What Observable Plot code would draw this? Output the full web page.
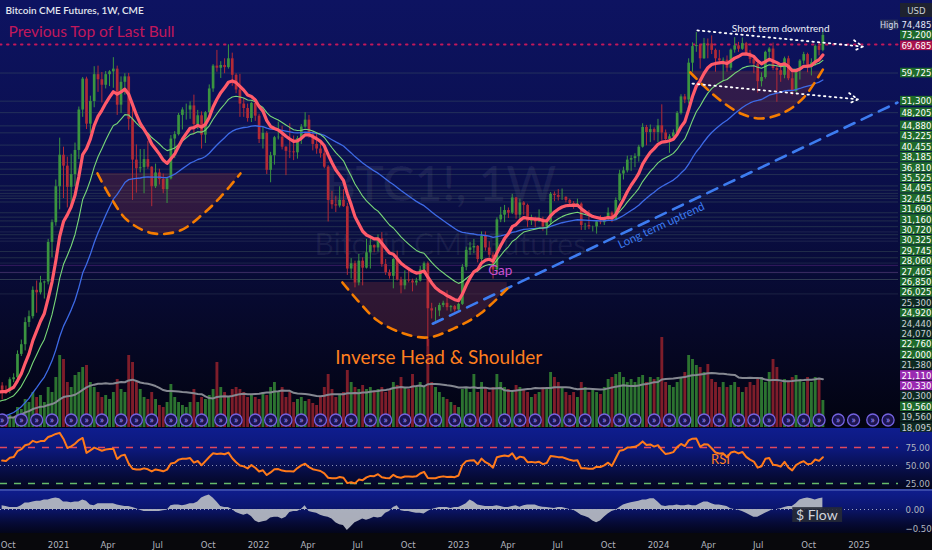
<!DOCTYPE html>
<html>
<head>
<meta charset="utf-8">
<script src="https://cdn.jsdelivr.net/npm/d3@7"></script>
<script src="https://cdn.jsdelivr.net/npm/@observablehq/plot@0.6"></script>
<style>
  html, body { margin:0; padding:0; background:#000; }
  #chart { position:relative; width:932px; height:550px; overflow:hidden; }
  .bg, .layer { position:absolute; left:0; width:932px; }
  .layer svg { display:block; overflow:visible; }
</style>
</head>
<body>
<div id="chart"></div>
<script>
// ---------------- DATA (prices in thousand USD, weekly candles from Sun 2020-09-20) ----------------
const firstWeek = "2020-09-20";
// weekly closes before the visible range (from 2019-10-06), used only to warm up the averages / RSI
const preCloses = [8.3,8.0,9.3,9.2,8.8,8.5,7.3,7.5,7.5,7.1,7.2,7.3,7.4,8.2,8.9,8.4,9.4,9.9,10.3,9.7,
  8.7,8.9,5.2,6.2,6.4,6.8,6.9,7.1,7.5,8.8,9.8,9.6,9.2,9.5,9.7,9.4,9.3,9.1,9.1,9.2,
  9.2,9.7,11.4,11.6,11.9,11.6,11.5,10.1,10.4,11.0];
const closes = [
  10.75,10.68,11.38,11.5,13.05,13.75,15.5,16.0,18.45,18.2,
  19.2,19.3,23.9,26.6,32.3,38.3,36.1,32.2,34.5,39.3,
  48.9,57.8,45.3,51.2,59.2,57.6,55.9,59.2,60.1,61.0,
  50.2,56.8,58.5,46.5,37.3,35.6,35.8,37.4,35.9,32.3,
  34.8,33.6,31.8,33.7,41.8,42.8,47.5,48.9,48.9,50.0,
  45.2,47.4,42.7,48.2,54.8,62.0,61.3,62.2,61.5,64.5,
  59.0,54.5,50.5,49.3,46.7,50.7,47.3,41.7,43.1,35.3,
  38.2,42.1,42.2,40.0,39.1,39.0,38.8,41.9,44.6,46.3,
  42.8,40.6,39.6,38.6,35.9,30.0,29.3,29.1,30.0,29.0,
  20.7,21.3,19.2,21.6,20.8,22.6,23.5,23.2,24.4,21.2,
  20.3,19.9,21.8,19.5,18.9,19.5,19.4,19.2,19.4,20.6,
  21.3,16.7,16.5,16.5,17.0,17.2,16.8,16.9,16.6,17.1,
  20.9,22.9,23.2,23.4,21.8,24.7,23.2,22.3,20.6,27.0,
  27.7,28.4,28.0,30.4,27.7,29.6,29.2,26.8,27.0,26.7,
  27.1,26.0,26.6,31.0,30.8,30.5,30.5,30.0,29.5,29.2,
  29.4,26.2,26.2,26.0,26.0,26.7,26.6,27.1,28.0,27.0,
  30.0,34.6,35.2,37.3,37.6,38.0,40.0,44.5,43.3,44.0,
  43.3,44.9,43.2,41.7,42.3,43.2,48.0,52.5,51.6,63.0,
  68.9,69.3,64.5,70.0,69.9,67.5,64.5,63.8,64.0,61.3,
  67.6,69.2,67.9,70.0,66.5,64.3,62.7,57.0,58.3,66.8,
  68.0,61.2,60.5,59.0,64.5,57.9,54.0,60.5,63.7,66.0,
  62.2,63.1,69.0,67.5,73.2];
const highs = [
  11.2,11.0,11.5,11.75,13.3,14.1,15.9,16.5,18.8,19.4,
  19.9,19.4,24.3,27.0,33.5,42.0,40.0,37.9,38.5,40.9,
  49.7,58.3,58.4,52.7,61.8,62.0,59.9,60.2,60.5,64.9,
  62.0,58.5,59.5,59.6,49.5,40.5,39.5,39.5,41.3,36.0,
  36.5,35.5,34.6,33.8,42.6,43.5,48.0,49.5,50.5,51.1,
  53.0,48.8,48.4,48.5,56.0,62.5,67.5,63.5,64.5,69.6,
  66.5,59.5,59.3,52.0,50.5,51.0,52.0,47.8,44.5,43.5,
  38.9,42.4,45.8,44.8,40.1,45.4,42.5,42.4,45.2,48.2,
  47.5,43.4,42.9,40.7,40.0,36.2,31.5,30.7,32.3,31.8,
  29.5,21.9,21.6,22.4,22.0,24.3,24.6,23.6,24.9,25.2,
  21.8,20.6,21.9,22.8,19.8,20.5,20.5,19.6,19.7,21.0,
  21.5,21.5,17.2,16.8,17.2,17.4,18.4,17.0,17.0,17.2,
  21.2,23.3,23.9,24.3,23.5,25.3,25.3,24.0,22.6,27.3,
  28.9,29.2,28.8,31.0,30.5,30.2,29.8,29.4,27.7,27.4,
  28.5,27.4,26.9,31.3,31.4,31.8,31.9,30.6,30.2,29.8,
  30.2,29.6,26.5,28.4,26.1,26.9,27.6,27.4,28.8,28.2,
  30.4,35.3,35.9,38.1,38.2,38.6,40.4,45.4,45.0,45.1,
  44.4,46.5,50.3,43.9,42.8,43.9,48.5,53.1,53.2,64.5,
  70.3,74.4,69.5,72.0,71.8,73.0,68.0,67.5,64.8,65.5,
  68.0,72.3,70.5,72.2,70.5,67.5,65.0,64.0,59.8,67.2,
  68.5,70.2,62.0,61.9,65.1,65.4,59.8,60.8,64.2,66.8,
  66.5,64.5,69.5,70.0,74.5];
const lows = [
  10.2,10.5,10.55,11.2,11.3,12.9,13.3,15.1,15.8,16.3,
  18.0,17.6,19.0,22.0,26.1,28.5,30.3,28.8,29.2,32.3,
  37.4,47.0,44.0,43.0,49.5,53.8,50.8,54.8,55.5,55.0,
  47.5,48.0,53.0,43.8,30.0,31.2,34.8,31.1,35.5,29.0,
  32.0,32.6,31.1,29.5,33.5,37.6,42.5,43.9,46.3,46.5,
  42.8,44.0,39.6,40.8,47.8,53.8,60.0,58.0,59.5,61.0,
  55.6,53.4,47.0,47.0,45.8,45.7,46.0,40.8,39.6,34.5,
  33.0,36.3,41.6,39.4,34.3,37.6,37.2,37.5,40.6,44.3,
  42.0,39.2,38.5,37.7,35.6,26.7,28.6,28.1,28.8,28.9,
  20.0,19.6,18.7,18.9,18.9,20.7,20.7,22.6,22.7,20.9,
  20.0,19.6,18.6,19.4,18.1,18.5,19.2,18.3,18.9,19.3,
  20.1,13.6,15.8,15.6,16.0,16.8,16.5,16.4,16.4,16.5,
  17.0,20.5,22.3,22.5,21.4,21.5,22.8,22.0,19.6,20.2,
  26.6,26.6,27.2,27.8,27.1,27.0,27.7,25.9,26.2,25.9,
  26.6,25.4,24.8,26.2,29.8,29.9,30.0,29.6,28.9,28.6,
  29.0,25.5,25.5,25.6,25.3,25.0,26.3,26.2,26.9,26.6,
  26.9,29.8,33.5,34.8,35.1,35.8,36.9,39.8,40.3,41.0,
  41.4,41.0,41.5,41.3,38.7,41.9,42.8,47.6,50.6,50.5,
  60.0,66.8,61.0,64.3,64.5,66.0,60.0,62.5,57.0,60.0,
  60.5,66.5,66.8,67.5,65.5,62.8,59.5,53.6,55.4,57.8,
  63.3,60.5,51.0,56.8,57.9,57.3,52.8,53.8,57.5,62.6,
  59.8,58.8,62.0,65.5,67.0];
// weekly volume (relative units)
const volumes = [
  10,8,12,10,20,18,28,25,35,30, 32,25,40,35,50,72,68,45,40,52,
  55,60,62,45,40,35,30,32,28,35, 48,38,35,72,65,45,38,30,28,35,
  28,22,20,25,43,30,25,22,20,25, 38,25,30,28,32,38,65,40,35,30,
  38,40,38,35,30,32,30,28,35,32, 40,45,35,40,30,35,25,28,30,26,
  28,24,22,30,40,53,38,30,32,35, 57,45,40,38,42,38,40,35,38,40,
  35,38,45,42,50,40,38,53,40,45, 40,88,45,40,35,30,28,25,22,20,
  38,40,35,53,35,45,40,35,40,53, 45,40,38,35,42,40,38,35,30,33,
  35,40,38,55,50,45,40,35,32,35, 30,45,40,35,38,35,33,40,48,50,
  53,55,50,45,48,45,50,52,45,50, 48,50,90,45,42,40,45,50,55,72,
  68,62,60,55,63,48,45,40,45,40, 42,45,40,35,40,45,42,48,50,45,
  55,68,60,45,48,45,50,52,48,45, 50,45,50,48,27];
// money flow oscillator
const flows = [
  0.1,0.08,0.05,0.05,0.05,0.1,0.17,0.17,0.2,0.22, 0.22,0.25,0.25,0.28,0.3,0.28,0.2,0.2,0.18,0.2,
  0.2,0.25,0.22,0.12,0.1,0.15,0.15,0.15,0.15,0.15, 0.12,0.1,0.08,0.08,0.05,0.02,-0.02,-0.05,-0.05,-0.05,
  -0.05,-0.05,-0.03,-0.02,0.1,0.12,0.12,0.1,0.12,0.15, 0.15,0.2,0.3,0.35,0.38,0.3,0.2,0.08,0.05,0.05,
  0.0,-0.08,-0.12,-0.15,-0.12,-0.18,-0.3,-0.35,-0.32,-0.3, -0.22,-0.2,-0.2,-0.25,-0.2,-0.08,-0.05,-0.05,0.0,0.1,
  -0.05,-0.08,-0.1,-0.15,-0.18,-0.2,-0.25,-0.35,-0.4,-0.42, -0.55,-0.45,-0.35,-0.3,-0.25,-0.28,-0.25,-0.2,-0.22,-0.2,
  -0.1,-0.05,0.05,0.1,-0.03,-0.05,-0.05,-0.08,-0.1,-0.1, -0.12,-0.05,0.0,0.03,0.05,0.05,0.05,0.03,0.05,0.05,
  0.1,0.15,0.25,0.2,0.12,0.1,0.08,0.08,0.08,0.1, 0.08,0.05,0.05,0.08,0.1,0.06,0.1,0.12,0.12,0.12,
  0.08,0.06,0.05,0.04,0.03,0.05,0.05,0.03,0.0,-0.02, -0.08,-0.15,-0.18,-0.22,-0.3,-0.35,-0.3,-0.2,-0.12,-0.05,
  -0.02,0.05,0.12,0.15,0.18,0.2,0.22,0.25,0.25,0.28, 0.28,0.2,0.1,0.08,0.1,0.1,0.12,0.1,0.1,0.12,
  0.1,0.1,0.15,0.2,0.2,0.15,0.12,0.12,0.1,0.08, 0.02,0.0,-0.02,-0.05,-0.1,-0.15,-0.2,-0.2,-0.15,-0.1,
  -0.05,0.0,0.0,0.02,0.05,0.08,0.08,0.15,0.25,0.28, 0.3,0.28,0.25,0.28,0.3];
// horizontal price levels drawn on the chart and their label styles (g = green, d = dark, m = magenta)
const levelPrices = [59725,51300,48205,44880,43225,40455,38185,36810,35525,34495,32445,31690,31160,30720,30325,
  29745,28060,27405,26850,26025,25300,24920,24440,24070,22760,22000,21380,21110,20330,20300,19560,19560,18095];
const levelKinds = ["g","g","g","g","g","g","g","g","g","g","g","g","g","g","g",
  "g","g","g","g","g","d","g","d","d","g","g","d","m","m","d","g","d","d"];
const lastPrice = 73200, topPrice = 69685, highPrice = 74485;
// moving-average lengths (weeks): fast, medium, slow
const maLengths = [10, 20, 50];
// annotation shapes: [date, price]
const cupLeft = [["2021-03-13",34700],["2021-04-06",30500],["2021-05-07",26900],["2021-06-23",25100],["2021-08-11",25500],["2021-09-22",27900],["2021-10-23",30500],["2021-11-29",34700]];
const cupLeftTop = 34700;
const cupMid = [["2022-06-03",19250],["2022-07-01",17460],["2022-08-06",15670],["2022-09-23",14610],["2022-11-06",14300],["2022-12-23",15000],["2023-02-10",16280],["2023-03-31",18630]];
const cupMidTop = 19250;
const cupRight = [["2024-02-28",59900],["2024-03-23",55800],["2024-04-23",51500],["2024-05-30",48000],["2024-07-06",46700],["2024-08-17",48250],["2024-09-22",52300],["2024-10-28",61200]];
const cupRightTop = 60300;
const upTrend = [["2022-11-15",15400],["2025-03-12",50900]];
const shortTrends = [{x1:"2024-03-12",y1:75200,x2:"2025-01-08",y2:68900},{x1:"2024-03-03",y1:56400,x2:"2024-12-30",y2:51800}];

// ---------------- BUILD ----------------
const W = 932, MAIN_H = 428, RIGHT = 34;
const xDomain = [new Date("2020-09-17"), new Date("2025-03-14")];
const yDomain = [8742, 88396];
const DAY = 864e5;
const start = new Date(firstWeek);
const candles = closes.map((c, i) => ({
  date: new Date(start.getTime() + i*7*DAY),
  open: (i ? closes[i-1] : preCloses[preCloses.length-1]) * 1000,
  high: highs[i]*1000, low: lows[i]*1000, close: c*1000,
  volume: volumes[i], flow: flows[i]
}));
const allCloses = preCloses.concat(closes);
const preStart = new Date(start.getTime() - preCloses.length*7*DAY);
const series = allCloses.map((c, i) => ({date: new Date(preStart.getTime() + i*7*DAY), close: c*1000}));
function rsi(values, n) {
  const out = values.map(() => NaN); let g = 0, l = 0;
  for (let i = 1; i < values.length; i++) {
    const d = values[i] - values[i-1], up = Math.max(d, 0), dn = Math.max(-d, 0);
    if (i <= n) { g += up; l += dn; if (i === n) { g /= n; l /= n; out[i] = 100 - 100/(1 + g/l); } }
    else { g = (g*(n-1) + up)/n; l = (l*(n-1) + dn)/n; out[i] = 100 - 100/(1 + g/l); }
  }
  return out;
}
// exponential moving average as a Plot map transform
const ema = n => ({mapIndex(I, S, T) { const a = 2/(n+1); let e; for (const i of I) { const v = +S[i]; e = e === undefined ? v : a*v + (1-a)*e; T[i] = e; } }});
const rsiAll = rsi(allCloses, 14);
const rsiData = candles.map((d, i) => ({date: d.date, rsi: rsiAll[i + preCloses.length]}));
const UP = "#3a9440", DOWN = "#b32a36";
const col = d => d.close >= d.open ? UP : DOWN;
const pts = arr => arr.map(([d, p]) => ({date: new Date(d), price: p}));
const levels = levelPrices.map((p, i) => ({price: p, kind: levelKinds[i]}));
const FONT = "Lato, 'Open Sans', sans-serif";
const NARROW = "'Liberation Sans Narrow', 'DejaVu Sans Condensed', 'Roboto', sans-serif";

const chart = document.getElementById("chart");
function bg(top, h, css) { const d = document.createElement("div"); d.className = "bg"; d.style.top = top + "px"; d.style.height = h + "px"; d.style.background = css; chart.appendChild(d); }
function layer(svg, top) { const d = document.createElement("div"); d.className = "layer"; d.style.top = top + "px"; d.appendChild(svg); chart.appendChild(d); }

bg(0, 428, "linear-gradient(to bottom, #0d1361 0%, #0b1052 30%, #090d40 55%, #060827 78%, #020310 100%)");
bg(428, 62, "linear-gradient(to bottom, #0f1d8e 0%, #0c187a 35%, #070d44 70%, #03051a 100%)");
bg(490, 43, "linear-gradient(to bottom, #0f1d8e 0%, #0b1670 40%, #060b38 75%, #03051a 100%)");
bg(489, 1.5, "#3848a8");
bg(533, 17, "#08080c");

const mainOpts = {
  width: W, height: MAIN_H, marginLeft: 0, marginRight: RIGHT, marginTop: 0, marginBottom: 0,
  x: {type: "utc", domain: xDomain, axis: null},
  y: {type: "log", domain: yDomain, axis: null},
  style: {background: "transparent", fontFamily: FONT}
};

// volume layer
layer(Plot.plot({
  ...mainOpts, marginTop: 340, marginBottom: 1,
  y: {type: "linear", domain: [0, 87], axis: null},
  marks: [
    Plot.ruleX(candles, {x: "date", y1: 0, y2: "volume", stroke: d => d.close >= d.open ? "#2c7330" : "#7e1d2a", strokeWidth: 2.9}),
    Plot.lineY(candles, Plot.windowY({k: 20, anchor: "end"}, {x: "date", y: "volume", stroke: "#858891", strokeWidth: 2}))
  ]
}), 0);

// main price layer
const ann = (date, price, text) => [{date: new Date(date), price, text}];
layer(Plot.plot({
  ...mainOpts,
  marks: [
    Plot.text(ann("2022-11-29", 32500, "BTC1!, 1W"), {x: "date", y: "price", text: "text", fontSize: 48, fill: "#ffffff", fillOpacity: 0.06, fontWeight: 600}),
    Plot.text(ann("2022-12-17", 23500, "Bitcoin CME Futures"), {x: "date", y: "price", text: "text", fontSize: 30, fill: "#ffffff", fillOpacity: 0.06}),
    Plot.ruleY(levels, {y: "price", stroke: d => d.kind === "m" ? "#9a3cb8" : d.kind === "d" ? "#4f5c70" : "#5c7a68", strokeOpacity: 0.3}),
    Plot.areaY(pts(cupLeft), {x: "date", y1: cupLeftTop, y2: "price", fill: "#6a2a3a", fillOpacity: 0.4, curve: "catmull-rom"}),
    Plot.areaY(pts(cupMid), {x: "date", y1: cupMidTop, y2: "price", fill: "#6a2a3a", fillOpacity: 0.4, curve: "catmull-rom"}),
    Plot.areaY(pts(cupRight), {x: "date", y1: cupRightTop, y2: "price", fill: "#6a2a3a", fillOpacity: 0.4, curve: "catmull-rom"}),
    Plot.ruleY([topPrice], {y: d => d, stroke: "#c2185b", strokeWidth: 2, strokeDasharray: "1.5,5.5", strokeLinecap: "round"}),
    Plot.ruleX(candles, {x: "date", y1: "low", y2: "high", stroke: col, strokeWidth: 1}),
    Plot.ruleX(candles, {x: "date", y1: "open", y2: "close", stroke: col, strokeWidth: 2.7}),
    Plot.lineY(series, Plot.mapY(ema(maLengths[2]), {x: "date", y: "close", stroke: "#3d6ae6", strokeWidth: 1.3, clip: true})),
    Plot.lineY(series, Plot.mapY(ema(maLengths[1]), {x: "date", y: "close", stroke: "#78d878", strokeWidth: 1.1, clip: true})),
    Plot.lineY(series, Plot.mapY(ema(maLengths[0]), {x: "date", y: "close", stroke: "#ff5a6a", strokeWidth: 3.2, clip: true})),
    Plot.line(pts(upTrend), {x: "date", y: "price", stroke: "#3d7cf0", strokeWidth: 2.6, strokeDasharray: "11,8"}),
    Plot.line(pts(cupLeft), {x: "date", y: "price", stroke: "#f57c00", strokeWidth: 2.6, strokeDasharray: "9,7", curve: "catmull-rom"}),
    Plot.line(pts(cupMid), {x: "date", y: "price", stroke: "#f57c00", strokeWidth: 2.6, strokeDasharray: "9,7", curve: "catmull-rom"}),
    Plot.line(pts(cupRight), {x: "date", y: "price", stroke: "#f57c00", strokeWidth: 2.6, strokeDasharray: "9,7", curve: "catmull-rom"}),
    Plot.arrow(shortTrends, {x1: d => new Date(d.x1), y1: "y1", x2: d => new Date(d.x2), y2: "y2", stroke: "#ffffff", strokeWidth: 1.8, strokeDasharray: "1.5,4", headLength: 9, bend: 0}),
    Plot.text(["Bitcoin CME Futures, 1W, CME"], {frameAnchor: "top-left", dx: 5, dy: 10, lineAnchor: "middle", textAnchor: "start", fill: "#e3e6ee", fontSize: 10, fontWeight: 600}),
    Plot.text([topPrice], {y: d => d, frameAnchor: "left", dx: 8, dy: -7, lineAnchor: "bottom", textAnchor: "start", text: () => "Previous Top of Last Bull", fill: "#c2185b", fontSize: 15.5}),
    Plot.text(ann("2024-08-11", 75980, "Short term downtrend"), {x: "date", y: "price", text: "text", fill: "#eef0f8", fontSize: 10}),
    Plot.text(ann("2024-01-06", 26200, "Long term uptrend"), {x: "date", y: "price", text: "text", fill: "#3d7cf0", fontSize: 11.5, rotate: -25}),
    Plot.text(ann("2023-03-18", 20500, "Gap"), {x: "date", y: "price", text: "text", fill: "#c84fd0", fontSize: 13.5}),
    Plot.text(ann("2022-11-26", 12770, "Inverse Head & Shoulder"), {x: "date", y: "price", text: "text", fill: "#ff7f1e", fontSize: 19})
  ]
}), 0);

// expiry event markers
const expiryWeeks = d3.utcMonth.range(new Date("2020-09-01"), new Date("2025-03-01")).map(m => {
  const last = d3.utcDay.offset(d3.utcMonth.offset(m, 1), -1);
  return d3.utcSunday.floor(d3.utcFriday.floor(last));
});
layer(Plot.plot({
  ...mainOpts, marginTop: 411, marginBottom: 0,
  y: {axis: null},
  marks: [
    Plot.dot(expiryWeeks, {x: d => d, r: 6, fill: "#1b1450", stroke: "#7462e0", strokeWidth: 1.3}),
    Plot.text(expiryWeeks, {x: d => d, text: () => "»", fill: "#a394ff", fontSize: 10, dy: -0.5})
  ]
}), 0);

// right-hand price labels
const LH = 10.4;
const ys = d3.scaleLog().domain(yDomain).range([MAIN_H, 0]);
const labels = [{price: lastPrice, kind: "g"}, {price: topPrice, kind: "top"}, ...levels].sort((a, b) => b.price - a.price);
let prevY = -Infinity;
for (const L of labels) { L.py = Math.max(ys(L.price), prevY + LH); prevY = L.py; }
const highLabel = {price: highPrice, kind: "high", py: Math.min(ys(highPrice), labels[0].py - LH)};
const allLabels = [highLabel, ...labels].map(L => ({...L, y1: ys.invert(L.py - LH/2 + 0.4), y2: ys.invert(L.py + LH/2 - 0.4), mid: ys.invert(L.py)}));
const boxFill = {g: "#1f6b2b", d: "#0e2a22", m: "#9a2ab2", top: "#a8144e", high: "#121a4c"};
const txtFill = {g: "#ffffff", d: "#c9ced6", m: "#ffffff", top: "#ffffff", high: "#e3e6ff"};
const usd = [{y1: ys.invert(3), y2: ys.invert(17), mid: ys.invert(10)}];
layer(Plot.plot({
  width: W, height: MAIN_H, marginLeft: 880, marginRight: 0, marginTop: 0, marginBottom: 0,
  x: {domain: [0, 1], axis: null},
  y: {type: "log", domain: yDomain, axis: null},
  style: {background: "transparent", fontFamily: NARROW},
  marks: [
    Plot.rect(usd, {x1: 0.385, x2: 1, y1: "y1", y2: "y2", fill: "#1e2230"}),
    Plot.text(usd, {x: 0.69, y: "mid", text: () => "USD", fill: "#c9ced6", fontSize: 9.5}),
    Plot.rect([allLabels[0]], {x1: 0, x2: 0.345, y1: "y1", y2: "y2", fill: "#2a3358"}),
    Plot.text([allLabels[0]], {x: 0.17, y: "mid", text: () => "High", fill: "#d6dbf0", fontSize: 9}),
    Plot.rect(allLabels, {x1: 0.385, x2: 1, y1: "y1", y2: "y2", fill: d => boxFill[d.kind]}),
    Plot.text(allLabels, {x: 0.69, y: "mid", text: d => d3.format(",")(d.price), fill: d => txtFill[d.kind], fontSize: 9.5})
  ]
}), 0);

// RSI panel
layer(Plot.plot({
  width: W, height: 62, marginLeft: 0, marginRight: RIGHT, marginTop: 0, marginBottom: 0,
  x: {type: "utc", domain: xDomain, axis: null},
  y: {domain: [15.3, 101.4], axis: null},
  style: {background: "transparent", fontFamily: FONT},
  marks: [
    Plot.ruleY([75], {stroke: "#e0485f", strokeWidth: 1.4, strokeDasharray: "7,7"}),
    Plot.ruleY([50], {stroke: "#8a90b4", strokeWidth: 1, strokeDasharray: "1,3"}),
    Plot.ruleY([25], {stroke: "#66bb6a", strokeWidth: 1.4, strokeDasharray: "7,7"}),
    Plot.lineY(rsiData, {x: "date", y: "rsi", stroke: "#ff7a1a", strokeWidth: 2}),
    Plot.text([{date: new Date("2024-04-23"), v: 58.3}], {x: "date", y: "v", text: () => "RSI", fill: "#ff7f1e", fontSize: 13}),
    Plot.axisY({anchor: "right", ticks: [25, 50, 75], tickFormat: d => d.toFixed(2), tickSize: 0, tickPadding: 7, fontSize: 9.5, color: "#b2b5be", label: null, fontFamily: NARROW})
  ]
}), 428);

// Money flow panel + time axis
layer(Plot.plot({
  width: W, height: 60, marginLeft: 0, marginRight: RIGHT, marginTop: 0, marginBottom: 17,
  x: {type: "utc", domain: xDomain},
  y: {domain: [-0.63, 0.5], axis: null},
  style: {background: "transparent", fontFamily: FONT},
  marks: [
    Plot.areaY(candles, {x: "date", y: "flow", fill: "#b3b7c1", fillOpacity: 0.95}),
    Plot.ruleY([0], {stroke: "#a0a6c8", strokeWidth: 1, strokeDasharray: "1,3"}),
    Plot.rect([{a: new Date("2024-09-02"), b: new Date("2024-12-02")}], {x1: "a", x2: "b", y1: -0.34, y2: 0.05, fill: "#262a36", fillOpacity: 0.9}),
    Plot.text([{date: new Date("2024-10-16"), v: -0.145}], {x: "date", y: "v", text: () => "$ Flow", fill: "#d1d4dc", fontSize: 14}),
    Plot.axisY({anchor: "right", ticks: [-0.5, 0], tickFormat: d => d === 0 ? "0.00" : "\u22120.50", tickSize: 0, tickPadding: 7, fontSize: 9.5, color: "#b2b5be", label: null, fontFamily: NARROW}),
    Plot.axisX({ticks: d3.utcMonth.every(3).range(new Date("2020-10-01"), new Date("2025-02-01")), tickFormat: d => d.getUTCMonth() === 0 ? String(d.getUTCFullYear()) : d3.utcFormat("%b")(d), tickSize: 0, tickPadding: 8, fontSize: 9.5, color: "#b2b5be", label: null, fontFamily: NARROW})
  ]
}), 490);
</script>
</body>
</html>
